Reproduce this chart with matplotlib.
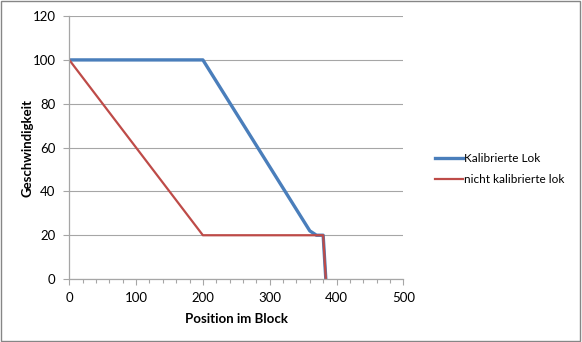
import matplotlib.pyplot as plt
from matplotlib.patches import Rectangle
from matplotlib.ticker import MultipleLocator

# Geschwindigkeitsprofile entlang des Blocks
pos_kalibriert = [0, 200, 360, 370, 380, 384]
v_kalibriert = [100, 100, 22, 20, 20, 0]

pos_unkalibriert = [0, 200, 380, 384]
v_unkalibriert = [100, 20, 20, 0]

labels = ["Kalibrierte Lok", "nicht kalibrierte lok"]

plt.rcParams["font.family"] = ["Lato", "DejaVu Sans"]

fig = plt.figure(figsize=(5.82, 3.42), dpi=100)
ax = fig.add_axes([0.119, 0.184, 0.574, 0.769])

ax.plot(pos_kalibriert, v_kalibriert, color="#4a7ebb", lw=2.4,
        label=labels[0], solid_joinstyle="round")
ax.plot(pos_unkalibriert, v_unkalibriert, color="#be4b48", lw=1.6,
        label=labels[1])

ax.set_xlim(0, 500)
ax.set_ylim(0, 120)
ax.xaxis.set_major_locator(MultipleLocator(100))
ax.xaxis.set_minor_locator(MultipleLocator(20))
ax.yaxis.set_major_locator(MultipleLocator(20))

ax.grid(axis="y", color="#a6a6a6", lw=0.8)
ax.set_axisbelow(True)
for side in ["top", "right"]:
    ax.spines[side].set_visible(False)
for side in ["left", "bottom"]:
    ax.spines[side].set_color("#a6a6a6")
    ax.spines[side].set_linewidth(0.9)

ax.tick_params(axis="both", which="both", colors="#a6a6a6", labelcolor="black",
               labelsize=9.5, width=0.8)
ax.tick_params(axis="x", which="major", length=4, pad=5)
ax.tick_params(axis="x", which="minor", length=3)
ax.tick_params(axis="y", length=4, pad=6)

ax.set_xlabel("Position im Block", fontsize=9.5, fontweight="bold", labelpad=7)
ax.set_ylabel("Geschwindigkeit", fontsize=9.5, fontweight="bold", labelpad=-0.5)

fig.legend(loc="center left", bbox_to_anchor=(0.737, 0.506), frameon=False,
           borderpad=0, fontsize=8.5, handlelength=2.4, handletextpad=0.1,
           labelspacing=0.8)

fig.patches.append(Rectangle((0.002, 0.003), 0.995, 0.993, transform=fig.transFigure,
                             fill=False, edgecolor="#868686", lw=1))

fig.savefig("out.png", dpi=100)
